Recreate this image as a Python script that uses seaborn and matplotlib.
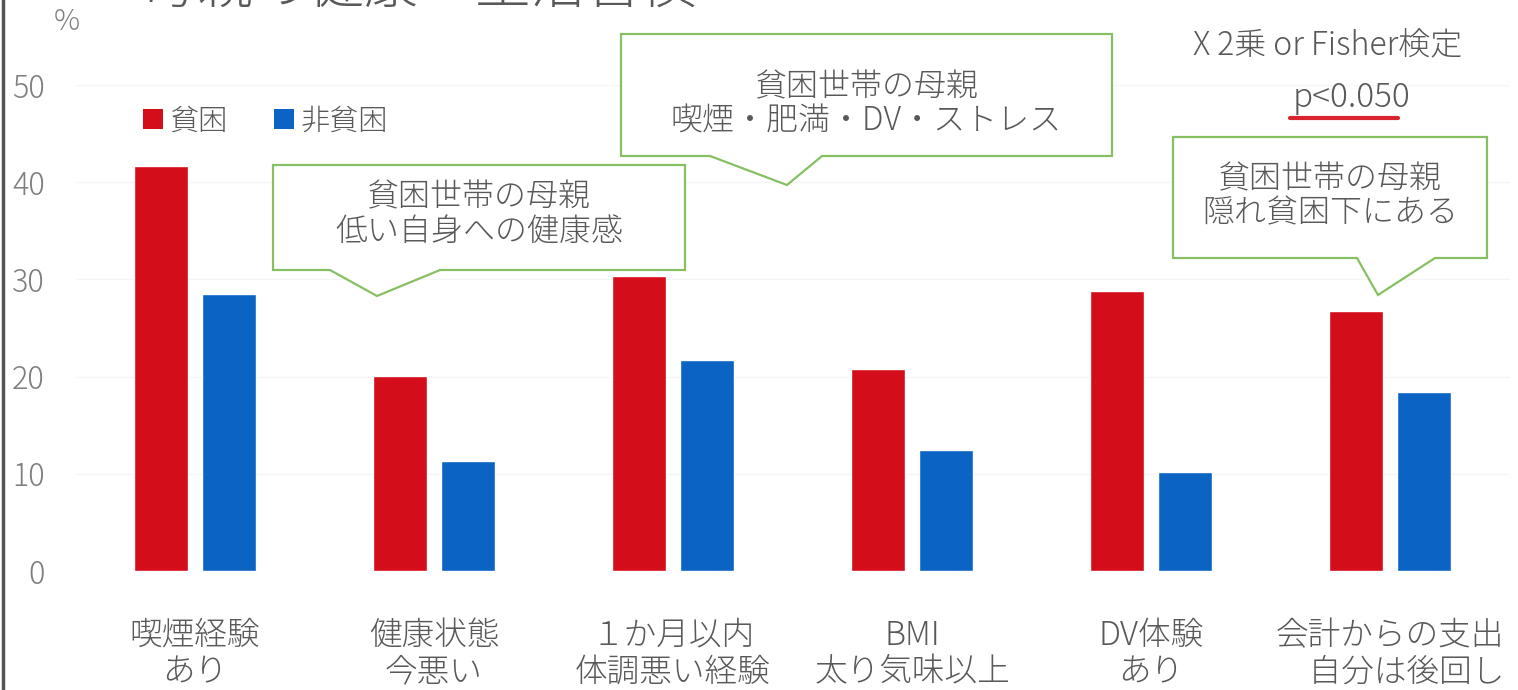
import matplotlib
matplotlib.use("Agg")
import matplotlib.pyplot as plt
from matplotlib.patches import Polygon, Patch
from matplotlib.lines import Line2D
import seaborn as sns
import pandas as pd

# --- data -------------------------------------------------------------
items = ["喫煙経験\nあり", "健康状態\n今悪い", "１か月以内\n体調悪い経験",
         "BMI\n太り気味以上", "DV体験\nあり", "会計からの支出\n\u3000自分は後回し"]
poor = [41.7, 20.1, 30.3, 20.8, 28.8, 26.8]
non_poor = [28.5, 11.3, 21.7, 12.5, 10.2, 18.4]
groups = ["貧困", "非貧困"]
y_ticks = [0, 10, 20, 30, 40, 50]

df = pd.DataFrame({
    "item": items * 2,
    "pct": poor + non_poor,
    "group": [groups[0]] * len(items) + [groups[1]] * len(items),
})

RED = "#d40d1a"
BLUE = "#0b63c4"
GREEN = "#86c063"
TXT = "#595959"
TICK = "#7f7f7f"

sns.set_theme(style="white")
plt.rcParams["font.family"] = ["Noto Sans CJK JP", "DejaVu Sans"]
plt.rcParams["font.weight"] = 300

W, H = 1518, 690
fig = plt.figure(figsize=(W / 100, H / 100), dpi=100)
fig.patch.set_facecolor("white")


def px(x, y):
    """pixel position (top-left origin) -> figure fraction"""
    return x / W, 1 - y / H


ax = fig.add_axes([75.5 / W, 1 - 571 / H, 1434 / W, 486 / H])
sns.barplot(data=df, x="item", y="pct", hue="group", order=items,
            hue_order=groups, palette=[RED, BLUE], width=0.57, gap=0.22,
            saturation=1, legend=False, ax=ax)

ax.set_xlim(-0.5, len(items) - 0.5)
ax.set_ylim(0, 50)
ax.set_yticks(y_ticks)
ax.set_xlabel("")
ax.set_ylabel("")
for s in ax.spines.values():
    s.set_visible(False)
ax.yaxis.grid(True, color="#f5f5f5", lw=1)
ax.set_axisbelow(True)
ax.tick_params(axis="y", length=0, pad=22, labelsize=22, labelcolor=TICK)
ax.tick_params(axis="x", length=0, pad=34, labelsize=23.5, labelcolor=TXT)
for lbl in ax.get_xticklabels():
    lbl.set_linespacing(1.08)
    lbl.set_verticalalignment("top")

# legend
handles = [Patch(facecolor=RED, edgecolor="none"),
           Patch(facecolor=BLUE, edgecolor="none")]
fig.legend(handles, groups, loc="center left",
           bbox_to_anchor=px(131, 121), ncol=2, frameon=False,
           fontsize=21, labelcolor=TXT, handlelength=0.7, handleheight=0.7,
           handletextpad=0.2, columnspacing=1.6, borderaxespad=0)

# title (top of the slide, partly above the frame)
fig.text(*px(420, -14), "母親の健康・生活習慣", ha="center", va="center",
         fontsize=40, color=TXT)
fig.text(*px(67, 22), "%", ha="center", va="center", fontsize=21, color=TICK)

# speech bubbles: box, tail (left base, tip, right base), text centre y, text
bubbles = [
    ((273, 165, 685, 270), [(330, 270), (377, 296), (440, 270)], 214,
     "貧困世帯の母親\n低い自身への健康感"),
    ((621, 34, 1112, 156), [(710, 156), (787, 185), (822, 156)], 104,
     "貧困世帯の母親\n喫煙・肥満・DV・ストレス"),
    ((1173, 137, 1487, 258), [(1357, 258), (1378, 295), (1435, 258)], 196,
     "貧困世帯の母親\n隠れ貧困下にある"),
]
for (x0, y0, x1, y1), tail, ty, text in bubbles:
    pts = [(x0, y0), (x1, y0), (x1, y1), tail[2], tail[1], tail[0], (x0, y1)]
    poly = Polygon([px(*p) for p in pts], closed=True, transform=fig.transFigure,
                   facecolor="white", edgecolor=GREEN, lw=1.6, zorder=5)
    fig.add_artist(poly)
    fig.text(*px((x0 + x1) / 2, ty), text, ha="center",
             va="center", fontsize=23, color=TXT, linespacing=1.0, zorder=6)

# significance note
fig.text(*px(1328, 46), "X 2乗 or Fisher検定", ha="center", va="center",
         fontsize=23, color=TXT)
fig.text(*px(1352, 98), "p<0.050", ha="center", va="center",
         fontsize=24, color=TXT)
fig.add_artist(Line2D([px(1290, 0)[0], px(1398, 0)[0]],
                      [px(0, 118)[1]] * 2, transform=fig.transFigure,
                      color="#d9232d", lw=3))

# slide border on the left
fig.add_artist(Line2D([px(3, 0)[0]] * 2, [0, 1], transform=fig.transFigure,
                      color="#555555", lw=2.5))

fig.savefig("out.png", dpi=100, facecolor="white")
